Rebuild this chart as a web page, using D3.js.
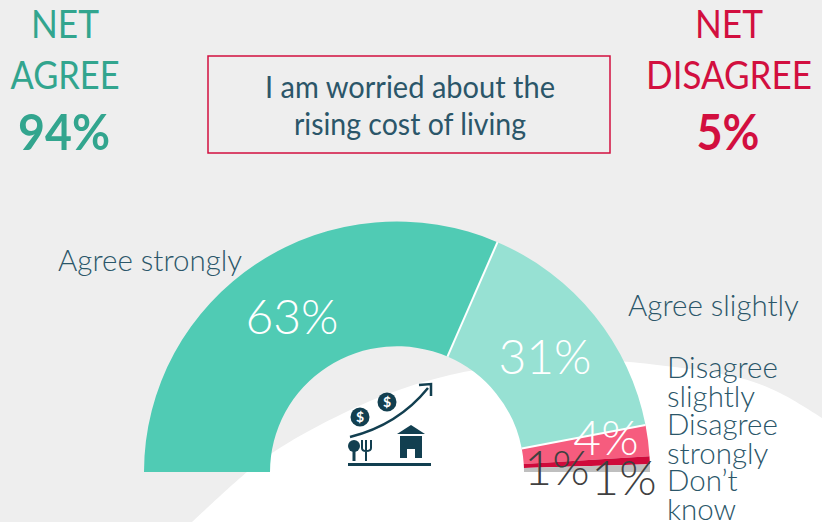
<!DOCTYPE html>
<html><head><meta charset="utf-8">
<script src="https://cdn.jsdelivr.net/npm/d3@7"></script>
<style>
html,body{margin:0;padding:0;background:#eeeeee}
svg{display:block}
text{font-family:Lato,"Open Sans",sans-serif}
</style></head><body>
<svg id="c" width="822" height="522"></svg>
<script>
const categories=["Agree strongly","Agree slightly","Disagree slightly","Disagree strongly","Don’t know"];
const values=[63,31,4,1,1];
const colors=["#50cbb4","#97e1d3","#f65c7e","#cf0a3b","#bfbfbf"];
const valueLabels=["63%","31%","4%","1%","1%"];
const labelColors=["#ffffff","#ffffff","#ffffff","#404040","#404040"];
const netLabels=[{lines:["NET","AGREE"],widths:[68,109],pct:"94%",pctWidth:92,x:65,color:"#32a58e"},{lines:["NET","DISAGREE"],widths:[68,166],pct:"5%",pctWidth:63,x:729,color:"#d20f3f"}];
const titleLines=["I am worried about the","rising cost of living"];

const svg=d3.select("#c");
const W=822,H=522;
svg.append("rect").attr("width",W).attr("height",H).attr("fill","#eeeeee");
// white swoosh
svg.append("path").attr("fill","#ffffff")
 .attr("d",d3.line().curve(d3.curveCatmullRom)([[192,522],[247,472],[272,453],[320,425],[385,395],[450,375],[520,364],[590,360],[640,363],[740,378],[780,393],[822,418]])+"L822,522Z");

const cx=397,cy=472,R=253,r=127;
const pie=d3.pie().sort(null).startAngle(-Math.PI/2).endAngle(Math.PI/2);
const arc=d3.arc().innerRadius(r).outerRadius(R);
const g=svg.append("g").attr("transform",`translate(${cx},${cy}) scale(1,0.99)`);
const arcs=pie(values);
g.selectAll("path").data(arcs).join("path").attr("d",arc).attr("fill",(d,i)=>colors[i]);
// white separators between the three large slices
g.selectAll("line").data(arcs.slice(0,2)).join("line")
 .attr("x1",d=>d3.pointRadial(d.endAngle,r)[0]).attr("y1",d=>d3.pointRadial(d.endAngle,r)[1])
 .attr("x2",d=>d3.pointRadial(d.endAngle,R)[0]).attr("y2",d=>d3.pointRadial(d.endAngle,R)[1])
 .attr("stroke","#ffffff").attr("stroke-width",2);

// value labels
const labelPos=[[292,334],[545,374],[606,455],[557,485],[624,495]];
svg.selectAll("text.v").data(valueLabels).join("text").attr("class","v")
 .attr("x",(d,i)=>labelPos[i][0]).attr("y",(d,i)=>labelPos[i][1])
 .attr("text-anchor","middle").attr("font-size",48).attr("font-weight",300)
 .attr("fill",(d,i)=>labelColors[i]).text(d=>d);

// category labels
const catCol="#2b5669";
const catPos=[{x:58,y:271,t:["Agree strongly"]},{x:628,y:316,t:["Agree slightly"]},{x:667,y:378,t:["Disagree","slightly"]},{x:667,y:435,t:["Disagree","strongly"]},{x:667,y:491,t:["Don’t","know"]}];
catPos.forEach(c=>c.t.forEach((s,i)=>svg.append("text").attr("x",c.x).attr("y",c.y+i*28.5)
 .attr("font-size",29.5).attr("font-weight",300).attr("fill",catCol).text(s)));

// net labels
netLabels.forEach(n=>{
 n.lines.forEach((s,i)=>svg.append("text").attr("x",n.x).attr("y",38+i*51).attr("text-anchor","middle")
  .attr("font-size",39).attr("font-weight",400).attr("textLength",n.widths[i]).attr("lengthAdjust","spacingAndGlyphs").attr("fill",n.color).text(s));
 svg.append("text").attr("x",n.x-1).attr("y",150).attr("text-anchor","middle")
  .attr("font-size",50).attr("font-weight",700).attr("textLength",n.pctWidth).attr("lengthAdjust","spacingAndGlyphs").attr("fill",n.color).text(n.pct);
});

// title box
svg.append("rect").attr("x",208).attr("y",56).attr("width",402).attr("height",97)
 .attr("fill","none").attr("stroke","#d20f3f").attr("stroke-width",1.5);
const titleW=[290,232];
titleLines.forEach((s,i)=>svg.append("text").attr("x",410).attr("y",98+i*37).attr("text-anchor","middle")
 .attr("font-size",30).attr("textLength",titleW[i]).attr("lengthAdjust","spacingAndGlyphs").attr("fill",catCol).text(s));

// icon
const ic="#123f50";
const I=svg.append("g").attr("fill",ic);
I.append("rect").attr("x",348).attr("y",463).attr("width",83).attr("height",3);
I.append("path").attr("fill","none").attr("stroke",ic).attr("stroke-width",2.5).attr("d","M350,437Q398,425 428,388");
I.append("path").attr("fill","none").attr("stroke",ic).attr("stroke-width",2.5).attr("d","M419,385L431,384L431,396");
[[360,417],[387,402]].forEach(p=>{
 I.append("circle").attr("cx",p[0]).attr("cy",p[1]).attr("r",9.5);
 I.append("text").attr("x",p[0]).attr("y",p[1]+5).attr("text-anchor","middle").attr("font-size",14).attr("font-weight",700).attr("fill","#ffffff").text("$");
});
I.append("circle").attr("cx",354).attr("cy",446).attr("r",6);
I.append("rect").attr("x",352.5).attr("y",446).attr("width",3).attr("height",15);
I.append("path").attr("fill","none").attr("stroke",ic).attr("stroke-width",2).attr("d","M362,440V448Q362,451 366,451Q371,451 371,448V440M366,440V461");
I.append("path").attr("d","M397,434L411,425L425,434Z");
I.append("path").attr("fill-rule","evenodd").attr("d","M400,436H422V458H400ZM407,449V458H415V449Z");
</script>
</body></html>
